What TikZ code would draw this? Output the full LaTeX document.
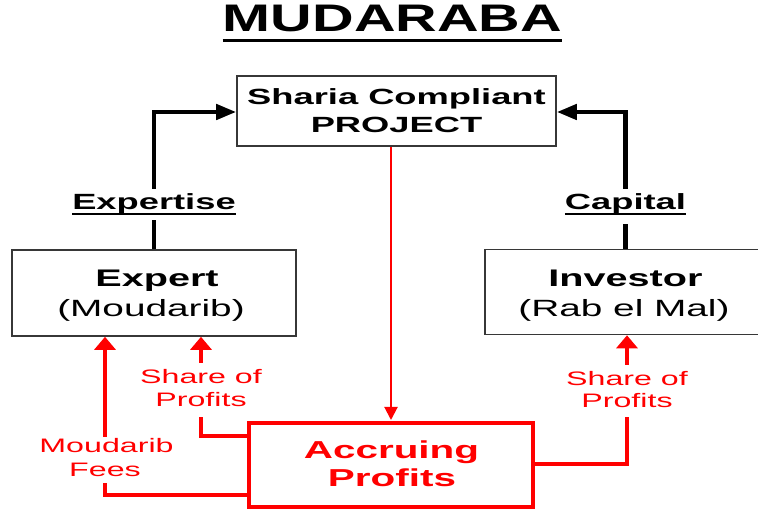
\documentclass[tikz,border=0pt]{standalone}
\usepackage{fontspec}
\setmainfont{Liberation Sans}
\usetikzlibrary{arrows.meta}
\newcommand{\hs}[2][1.65]{\scalebox{#1}[1]{#2}}
\definecolor{pred}{RGB}{255,0,0}
\definecolor{bdr}{RGB}{55,55,55}
\begin{document}
\begin{tikzpicture}[x=1pt,y=-1pt,
  box/.style={draw=bdr,line width=1.6pt,inner sep=0pt},
  accbox/.style={draw=pred,line width=4pt,inner sep=0pt},
  lbl/.style={anchor=base,inner sep=0pt},
  blk/.style={line width=4.5pt,draw=black},
  blkarrow/.style={blk,-{Triangle[length=20pt,width=15pt]}},
  rline/.style={line width=4.5pt,draw=pred},
  rarrow/.style={rline,-{Triangle[length=13pt,width=21pt]}},
  thinred/.style={line width=2pt,draw=pred,-{Triangle[length=13pt,width=13pt]}},
  redtxt/.style={lbl,text=pred,font=\fontsize{19.5}{22}\selectfont}]
\useasboundingbox (0,0) rectangle (758,510);
\clip (0,0) rectangle (758,510);
\fill[white] (0,0) rectangle (758,510);

% title
\node[lbl,font=\fontsize{38.4}{40}\selectfont\bfseries] (title) at (392.5,32) {\hs[1.5]{MUDARABA}};
\draw[line width=3pt] ([yshift=-9pt]title.base west) -- ([yshift=-9pt]title.base east);

% boxes
\node[box,minimum width=319pt,minimum height=70pt] (project) at (396.5,111) {};
\node[box,minimum width=284pt,minimum height=86pt] (expert) at (154,293) {};
\node[box,minimum width=282pt,minimum height=85pt] (investor) at (626,292) {};
\node[accbox,minimum width=284pt,minimum height=84pt] (acc) at (391,465) {};

% box texts
\node[lbl,font=\fontsize{22}{24}\selectfont\bfseries] (t1) at (396.5,105) {\hs{Sharia Compliant}};
\node[lbl,font=\fontsize{22}{24}\selectfont\bfseries] (t2) at (396.5,133) {\hs{PROJECT}};
\node[lbl,font=\fontsize{24}{26}\selectfont\bfseries] (t3) at (157,287) {\hs{Expert}};
\node[lbl,font=\fontsize{23.5}{26}\selectfont] (t4) at (151,317) {\hs{(Moudarib)}};
\node[lbl,font=\fontsize{24}{26}\selectfont\bfseries] (t5) at (625.5,287) {\hs{Investor}};
\node[lbl,font=\fontsize{23.5}{26}\selectfont] (t6) at (624,317) {\hs{(Rab el Mal)}};
\node[lbl,text=pred,font=\fontsize{24.5}{26}\selectfont\bfseries] (t7) at (391.5,459) {\hs{Accruing}};
\node[lbl,text=pred,font=\fontsize{24.5}{26}\selectfont\bfseries] (t8) at (392,486) {\hs{Profits}};

% black labels
\node[lbl,font=\fontsize{22}{24}\selectfont\bfseries] (lexp) at (154,210) {\hs{Expertise}};
\draw[line width=2pt] ([yshift=-4pt]lexp.base west) -- ([yshift=-4pt]lexp.base east);
\node[lbl,font=\fontsize{22}{24}\selectfont\bfseries] (lcap) at (625.5,210) {\hs{Capital}};
\draw[line width=2pt] ([yshift=-4pt]lcap.base west) -- ([yshift=-4pt]lcap.base east);

% black connectors
\draw[blk] (expert.north -| lexp.base) -- ([yshift=-5pt]lexp.south);
\draw[blkarrow] ([yshift=5pt]lexp.north) |- ([yshift=-1pt]project.west);
\draw[blk] (investor.north -| lcap.base) -- ([yshift=-9pt]lcap.south);
\draw[blkarrow] ([yshift=5pt]lcap.north) |- ([yshift=-1pt]project.east);

% red main
\draw[thinred] (project.south -| acc.north) -- ([yshift=1pt]acc.north);

% red labels
\node[redtxt] (moud) at (106.5,453) {\hs{Moudarib}};
\node[redtxt] (fees) at (105,477) {\hs{Fees}};
\node[redtxt] (sl1) at (201,384) {\hs{Share of}};
\node[redtxt] (sl2) at (201,407) {\hs{Profits}};
\node[redtxt] (sr1) at (627,386) {\hs{Share of}};
\node[redtxt] (sr2) at (627,408) {\hs{Profits}};

% red connectors
\draw[rline] ([yshift=-30pt]acc.west) -| ([yshift=-6pt]fees.south);
\draw[rarrow] ([yshift=2pt]moud.north -| fees.south) -- (expert.south -| fees.south);
\draw[rline] ([yshift=29pt]acc.west) -| ([yshift=-10pt]sl2.south);
\draw[rarrow] ([yshift=7pt]sl1.north) -- (expert.south -| sl1.north);
\draw[rline] ([yshift=1pt]acc.east) -| ([yshift=-9pt]sr2.south);
\draw[rarrow] ([yshift=7pt]sr1.north) -- (investor.south -| sr1.north);
\end{tikzpicture}
\end{document}
